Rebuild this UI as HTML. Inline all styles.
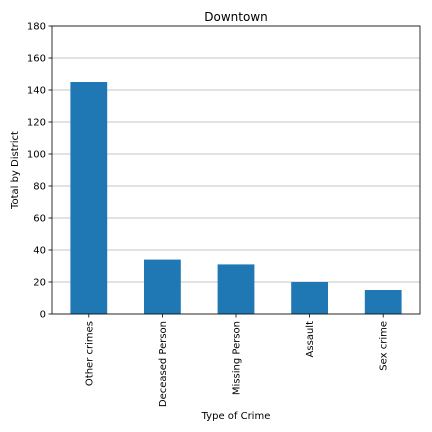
<!DOCTYPE html>
<html><head><meta charset="utf-8"><style>
html,body{margin:0;padding:0;background:#fff;}
svg{display:block;font-family:"DejaVu Sans","Liberation Sans",sans-serif;}
</style></head><body>
<svg id="chart" width="432" height="432" viewBox="0 0 432 432" xmlns="http://www.w3.org/2000/svg"></svg>
<script>
const categories = ["Other crimes","Deceased Person","Missing Person","Assault","Sex crime"];
const values = [145, 34, 31, 20, 15];
const yTicks = [0,20,40,60,80,100,120,140,160,180];
const L=52, R=420, T=26, B=314, yMax=180;
const svg=document.getElementById('chart');
const NS='http://www.w3.org/2000/svg';
function y(v){return B-(v/yMax)*(B-T);}
const step=(R-L)/categories.length;
function xc(i){return L+step*(i+0.5);}
function mk(tag,attrs,parent){const e=document.createElementNS(NS,tag);for(const k in attrs)e.setAttribute(k,attrs[k]);(parent||svg).appendChild(e);return e;}
// grid
yTicks.forEach(t=>{
  const g=mk('line',{x1:L,x2:R,y1:y(t),y2:y(t),stroke:'#b0b0b0','stroke-width':0.8});
  
  
  const tk=mk('line',{x1:L-3.5,x2:L,y1:y(t),y2:y(t),stroke:'#000','stroke-width':0.8});
  
  
  const tl=mk('text',{x:L-6,y:y(t)+3.5,'text-anchor':'end','font-size':10,fill:'#000'});
  tl.textContent=t;
  
  
});
// bars
categories.forEach((c,i)=>{
  const w=step*0.5;
  const b=mk('rect',{x:xc(i)-w/2,y:y(values[i]),width:w,height:B-y(values[i]),fill:'#1f77b4'});
  
  
  const tk=mk('line',{x1:xc(i),x2:xc(i),y1:B,y2:B+3.5,stroke:'#000','stroke-width':0.8});
  
  
  const tl=mk('text',{x:0,y:0,'text-anchor':'end','font-size':10,fill:'#000',transform:`translate(${xc(i)+3.5},${B+7}) rotate(-90)`});
  tl.textContent=c;
  
  
});
// frame
const fr=mk('rect',{x:L,y:T,width:R-L,height:B-T,fill:'none',stroke:'#000','stroke-width':0.8});


const title=mk('text',{x:(L+R)/2,y:21,'text-anchor':'middle','font-size':12,fill:'#000'});
title.textContent='Downtown';


const xt=mk('text',{x:(L+R)/2,y:419,'text-anchor':'middle','font-size':10,fill:'#000'});
xt.textContent='Type of Crime';


const yt=mk('text',{x:0,y:0,'text-anchor':'middle','font-size':10,fill:'#000',transform:`translate(18,${(T+B)/2}) rotate(-90)`});
yt.textContent='Total by District';


</script>
</body></html>
